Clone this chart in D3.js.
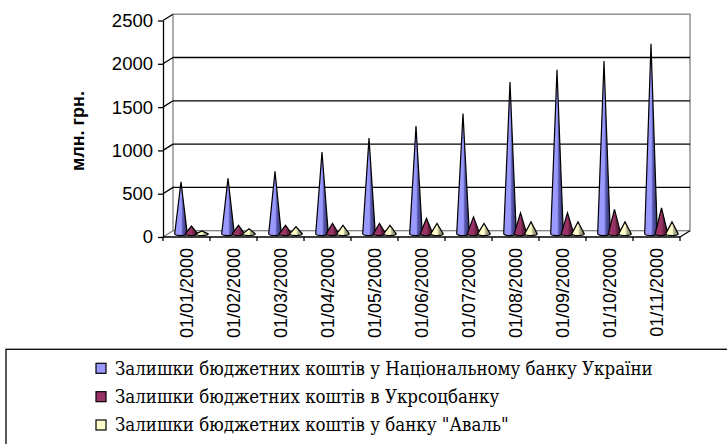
<!DOCTYPE html>
<html><head><meta charset="utf-8">
<script src="https://cdn.jsdelivr.net/npm/d3@7/dist/d3.min.js"></script>
<style>
html,body{margin:0;padding:0;background:#fff;}
svg{display:block;}
</style></head>
<body>
<svg id="chart" width="727" height="444"></svg>
<script>
const categories = ["01/01/2000","01/02/2000","01/03/2000","01/04/2000","01/05/2000","01/06/2000","01/07/2000","01/08/2000","01/09/2000","01/10/2000","01/11/2000"];
const seriesNames = ["Залишки бюджетних коштів у Національному банку України","Залишки бюджетних коштів в Укрсоцбанку","Залишки бюджетних коштів у банку \"Аваль\""];
const nbuValues = [600, 640, 722, 945, 1105, 1245, 1390, 1752, 1895, 1995, 2195];
const ukrsotsValues = [90, 98, 98, 120, 120, 178, 196, 242, 242, 282, 300];
const avalValues = [33, 58, 82, 98, 98, 120, 120, 138, 138, 138, 138];
const yTicks = [0, 500, 1000, 1500, 2000, 2500];
const yTitle = "млн. грн.";
const colors = ["#9999ff", "#993366", "#ffffcc"];
const darks = ["#2e2e66", "#4a1530", "#77775c"];
const mids = ["#5a5ab0", "#6e2247", "#b5b58f"];

const SANS = "'Liberation Sans', Arial, sans-serif";
const SERIF = "'DejaVu Serif Condensed', 'DejaVu Serif', serif";

const series = [nbuValues, ukrsotsValues, avalValues];
const svg = d3.select("#chart");

// geometry
const x0 = 163, x1 = 680, yBase = 237, yTop = 20.5;
const DX = 10, DY = -6.3;
const x = d3.scaleBand().domain(categories).range([x0, x1]).paddingInner(0).paddingOuter(0);
const y = d3.scaleLinear().domain([0, 2500]).range([yBase, yTop]);

// gradients
const defs = svg.append("defs");
colors.forEach((c, i) => {
  const g = defs.append("linearGradient").attr("id", "g" + i)
    .attr("x1", "0%").attr("x2", "100%").attr("y1", "0%").attr("y2", "0%");
  g.append("stop").attr("offset", "0%").attr("stop-color", c);
  g.append("stop").attr("offset", "52%").attr("stop-color", c);
  g.append("stop").attr("offset", "64%").attr("stop-color", mids[i]);
  g.append("stop").attr("offset", "100%").attr("stop-color", darks[i]);
});

const grey = "#808080";
svg.append("rect").attr("x", x0 + DX).attr("y", y(2500) + DY)
  .attr("width", x1 - x0).attr("height", y(0) - y(2500))
  .attr("fill", "none").attr("stroke", grey).attr("stroke-width", 1.3);
svg.append("g").selectAll("line").data(yTicks.filter(t => t > 0 && t < 2500)).join("line")
  .attr("x1", x0 + DX).attr("x2", x1 + DX)
  .attr("y1", d => y(d) + DY).attr("y2", d => y(d) + DY)
  .attr("stroke", "#000").attr("stroke-width", 1.3);
svg.append("g").selectAll("line").data(yTicks).join("line")
  .attr("x1", x0).attr("x2", x0 + DX)
  .attr("y1", d => y(d)).attr("y2", d => y(d) + DY)
  .attr("stroke", d => d === 0 ? grey : "#000").attr("stroke-width", 1.3);
svg.append("line").attr("x1", x1).attr("y1", y(0)).attr("x2", x1 + DX).attr("y2", y(0) + DY)
  .attr("stroke", "#000").attr("stroke-width", 1.2);

// cones
const coneR = 6.3, coneRy = 1.8, spacing = 10.5;
const mid = 0.5;
series.forEach((vals, s) => {
  svg.append("g").selectAll("path").data(vals).join("path")
    .attr("d", (v, i) => {
      const cx = x(categories[i]) + x.bandwidth() / 2 + DX * mid + (s - 1) * spacing;
      const by = y(0) + DY * mid;
      const ay = y(v) + DY * mid;
      return `M${cx - coneR},${by} L${cx},${ay} L${cx + coneR},${by} A${coneR},${coneRy} 0 0 1 ${cx - coneR},${by} Z`;
    })
    .attr("fill", `url(#g${s})`)
    .attr("stroke", "#000").attr("stroke-width", 1.2).attr("stroke-linejoin", "miter");
});

svg.append("line").attr("x1", x0).attr("x2", x1).attr("y1", y(0)).attr("y2", y(0))
  .attr("stroke", "#000").attr("stroke-width", 1.3);

const yAxis = d3.axisLeft(y).tickValues(yTicks).tickFormat(d3.format("d")).tickSize(5).tickPadding(5).tickSizeOuter(0);
const ga = svg.append("g").attr("transform", `translate(${x0},0)`).call(yAxis);
ga.attr("font-family", SANS).attr("font-size", 18.5);
ga.select(".domain").attr("stroke", "#000").attr("stroke-width", 1.3);
ga.selectAll(".tick line").attr("stroke", "#000").attr("stroke-width", 1.3);
ga.selectAll("text").attr("fill", "#000");
svg.append("line").attr("x1", x0).attr("x2", x0).attr("y1", y(0)).attr("y2", y(0) + 4)
  .attr("stroke", "#000").attr("stroke-width", 1.3);

const xAxis = d3.axisBottom(x).tickSize(0).tickPadding(0);
const gx = svg.append("g").attr("transform", `translate(0,${y(0)})`).call(xAxis);
gx.attr("font-family", SANS).attr("font-size", 18);
gx.select(".domain").remove();
gx.selectAll(".tick text")
  .attr("fill", "#000")
  .attr("transform", "rotate(-90)").attr("text-anchor", "end")
  .attr("x", -11).attr("y", 0).attr("dy", "0.35em");
svg.append("g").selectAll("line").data(categories.slice(1).concat(["end"])).join("line")
  .attr("x1", d => d === "end" ? x1 : x(d)).attr("x2", d => d === "end" ? x1 : x(d))
  .attr("y1", y(0)).attr("y2", y(0) + 4)
  .attr("stroke", "#000").attr("stroke-width", 1.3);

svg.append("text").attr("transform", "translate(78,131) rotate(-90)")
  .attr("text-anchor", "middle").attr("dy", "0.35em")
  .attr("font-family", SANS).attr("font-weight", "bold").attr("font-size", 18).text(yTitle);

// legend
const lg = svg.append("g").attr("font-family", SERIF).attr("font-size", 18.5).style("font-stretch", "condensed");
lg.append("rect").attr("x", 6).attr("y", 349.3).attr("width", 740).attr("height", 120)
  .attr("fill", "#fff").attr("stroke", "#000").attr("stroke-width", 1.3);
const rows = [368.3, 396.7, 425];
seriesNames.forEach((n, i) => {
  lg.append("rect").attr("x", 96).attr("y", rows[i] - 5).attr("width", 10).attr("height", 10)
    .attr("fill", colors[i]).attr("stroke", "#000").attr("stroke-width", 1.2);
  lg.append("text").attr("x", 115).attr("y", rows[i]).attr("dy", "0.35em")
    .attr("fill", "#000").text(n);
});
</script>
</body></html>
